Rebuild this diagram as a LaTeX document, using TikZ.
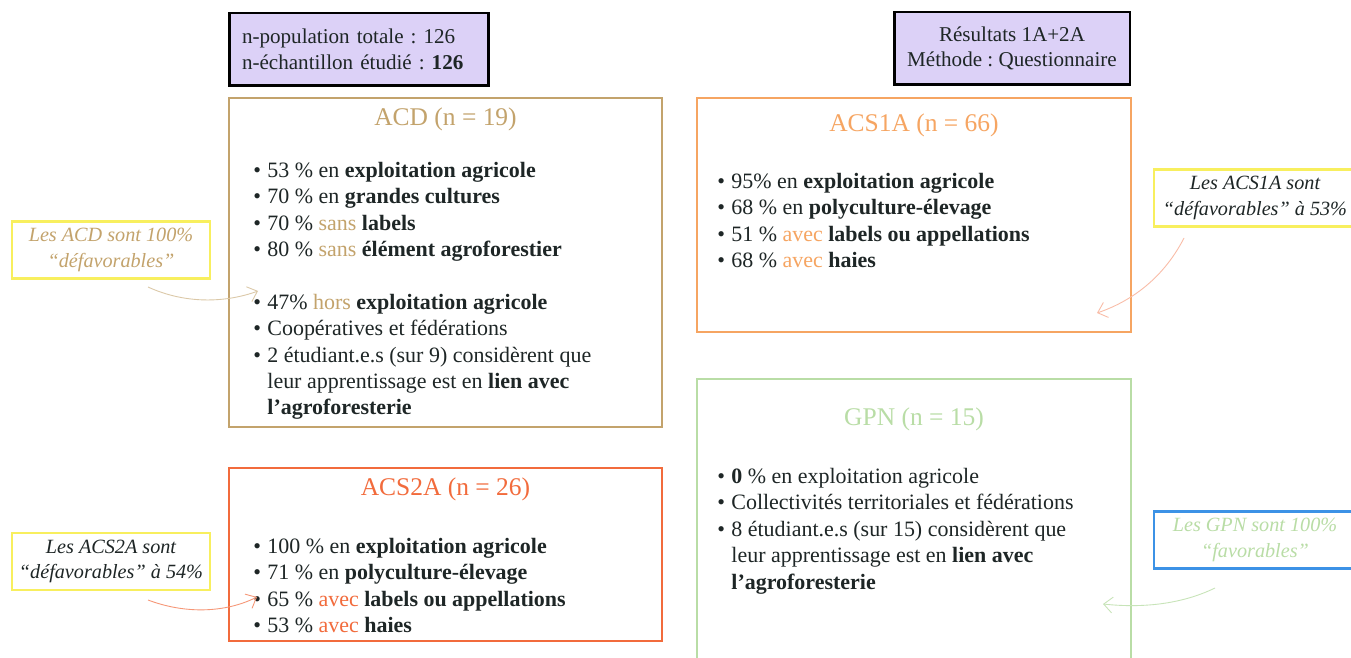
\documentclass[tikz,border=0pt]{standalone}
\usepackage{fontspec}
\setmainfont{Liberation Serif}
\frenchspacing
\usetikzlibrary{fit,arrows.meta}

\definecolor{lavande}{HTML}{DCD1F7}
\definecolor{acdcol}{HTML}{C3A36C}
\definecolor{acsuncol}{HTML}{F6A562}
\definecolor{acsdeuxcol}{HTML}{F26B3C}
\definecolor{gpncol}{HTML}{B9DDA6}
\definecolor{jaune}{HTML}{F8EF5E}
\definecolor{bleu}{HTML}{3C92E6}
\definecolor{encre}{HTML}{1E2626}

\newcommand{\puce}{\makebox[8pt][l]{\textbullet}}
\newcommand{\retrait}{\hspace*{8pt}}

\tikzset{
  entete/.style={draw=black, line width=1.7pt, fill=lavande, text=encre,
    minimum width=#1, minimum height=1.46cm, inner xsep=0.26cm,
    font=\fontsize{12}{14.5}\selectfont},
  cadre/.style={draw=#1, line width=1.1pt, inner sep=0pt},
  titre/.style={text=#1, font=\fontsize{14.5}{17}\selectfont},
  liste/.style={anchor=north west, inner sep=0pt, align=left, text=encre,
    font=\fontsize{12.5}{15}\selectfont},
  appel/.style={draw=#1, line width=1.4pt, align=center, inner sep=0pt,
    minimum height=1.14cm, font=\fontsize{11.5}{14.5}\selectfont\itshape},
  fleche/.style={-{Straight Barb[length=5pt,width=9pt]}, line width=0.5pt}
}

\begin{document}
\begin{tikzpicture}[x=0.02cm, y=-0.02cm]

\clip (0,0) rectangle (1351,658);
\fill[white] (0,0) rectangle (1351,658);

% en-tetes
\node[entete=5.2cm, align=left, text width=4.68cm] (pop) at (359,49.5)
  {n-population totale : 126\\ n-échantillon étudié : \textbf{126}};
\node[entete=4.72cm, align=center] (meth) at (1012,48.5)
  {Résultats 1A+2A\\ Méthode : Questionnaire};

% cadres
\node[cadre=acdcol, fit={(229,98) (662,427)}] (acd) {};
\node[cadre=acsuncol, fit={(697,98) (1131,332)}] (acsun) {};
\node[cadre=acsdeuxcol, fit={(229,468) (662,641)}] (acsdeux) {};
\node[cadre=gpncol, fit={(697,379) (1131,680)}] (gpn) {};

% titres
\node[titre=acdcol] (tacd) at (445.5,119) {ACD (n = 19)};
\node[titre=acsuncol] (tacsun) at (914,125) {ACS1A (n = 66)};
\node[titre=acsdeuxcol] (tacsdeux) at (445.5,489) {ACS2A (n = 26)};
\node[titre=gpncol] (tgpn) at (914,419) {GPN (n = 15)};

% listes
\node[liste] (lacd) at (253,162) {%
  \puce 53 \% en \textbf{exploitation agricole}\\
  \puce 70 \% en \textbf{grandes cultures}\\
  \puce 70 \% \textcolor{acdcol}{sans} \textbf{labels}\\
  \puce 80 \% \textcolor{acdcol}{sans} \textbf{élément agroforestier}\\[15pt]
  \puce 47\% \textcolor{acdcol}{hors} \textbf{exploitation agricole}\\
  \puce Coopératives et fédérations\\
  \puce 2 étudiant.e.s (sur 9) considèrent que\\
  \retrait leur apprentissage est en \textbf{lien avec}\\
  \retrait \textbf{l'agroforesterie}};

\node[liste] (lacsun) at (717,173) {%
  \puce 95\% en \textbf{exploitation agricole}\\
  \puce 68 \% en \textbf{polyculture-élevage}\\
  \puce 51 \% \textcolor{acsuncol}{avec} \textbf{labels ou appellations}\\
  \puce 68 \% \textcolor{acsuncol}{avec} \textbf{haies}};

\node[liste] (lacsdeux) at (253,538) {%
  \puce 100 \% en \textbf{exploitation agricole}\\
  \puce 71 \% en \textbf{polyculture-élevage}\\
  \puce 65 \% \textcolor{acsdeuxcol}{avec} \textbf{labels ou appellations}\\
  \puce 53 \% \textcolor{acsdeuxcol}{avec} \textbf{haies}};

\node[liste] (lgpn) at (717,468) {%
  \puce \textbf{0} \% en exploitation agricole\\
  \puce Collectivités territoriales et fédérations\\
  \puce 8 étudiant.e.s (sur 15) considèrent que\\
  \retrait leur apprentissage est en \textbf{lien avec}\\
  \retrait \textbf{l'agroforesterie}};

% appels
\node[appel=jaune, minimum width=3.96cm, text=acdcol] (appacd) at (111,250)
  {Les ACD sont 100\%\\ “défavorables”};
\node[appel=jaune, minimum width=4.04cm, text=encre] (appacsun) at (1255,198)
  {Les ACS1A sont\\ “défavorables” à 53\%};
\node[appel=jaune, minimum width=3.96cm, text=encre] (appacsdeux) at (111,561.5)
  {Les ACS2A sont\\ “défavorables” à 54\%};
\node[appel=bleu, minimum width=4.04cm, text=gpncol] (appgpn) at (1255,540)
  {Les GPN sont 100\%\\ “favorables”};

% fleches
\coordinate (dacd) at (148,287);
\coordinate (facd) at (258,291);
\coordinate (dacsun) at (1184,238);
\coordinate (facsun) at (1097,313);
\coordinate (dacsdeux) at (148,600);
\coordinate (facsdeux) at (257,597);
\coordinate (dgpn) at (1215,588);
\coordinate (fgpn) at (1103,604);

\draw[fleche, acdcol!60] (dacd) .. controls (185,304) and (225,303) .. (facd);
\draw[fleche, acsdeuxcol!45] (dacsun) .. controls (1165,275) and (1135,300) .. (facsun);
\draw[fleche, acsdeuxcol!70] (dacsdeux) .. controls (185,614) and (225,613) .. (facsdeux);
\draw[fleche, gpncol!80] (dgpn) .. controls (1180,605) and (1140,608) .. (fgpn);

\end{tikzpicture}
\end{document}
